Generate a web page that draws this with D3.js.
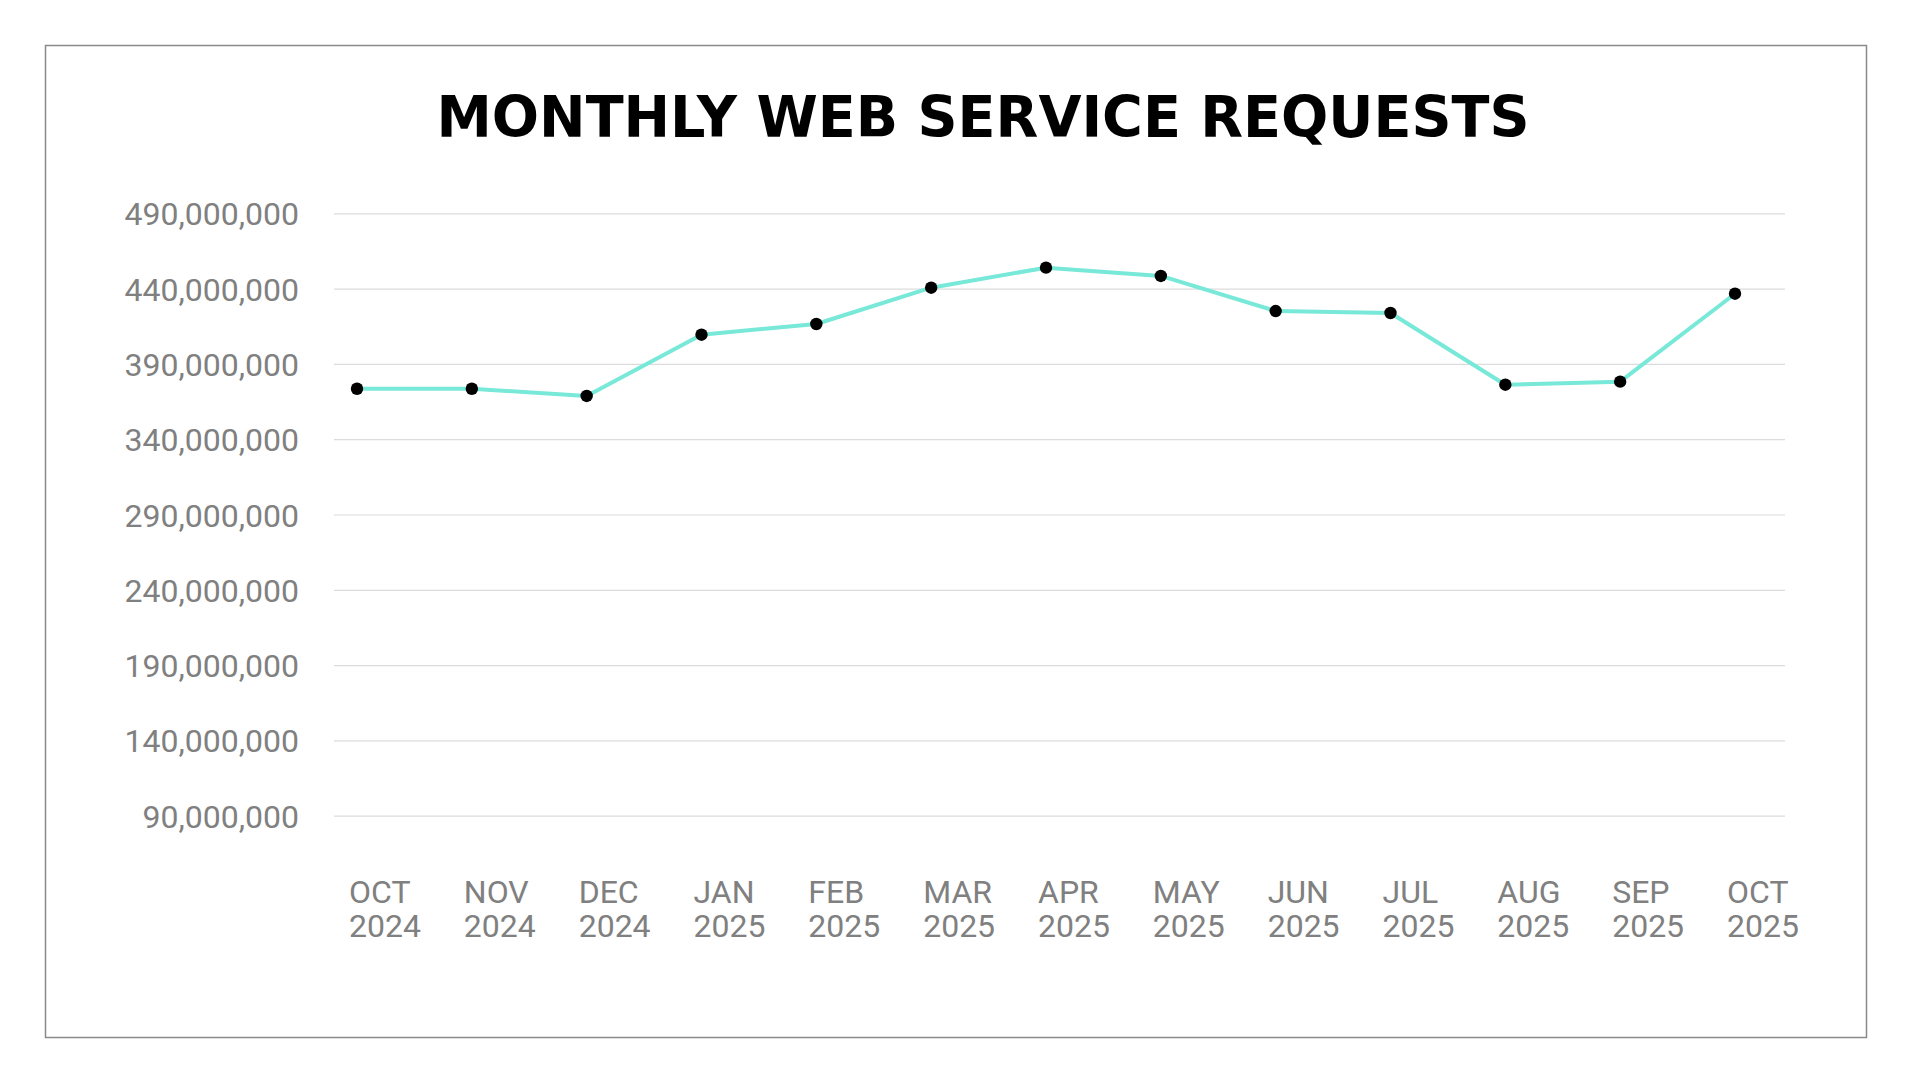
<!DOCTYPE html>
<html lang="en">
<head>
  <meta charset="utf-8" />
  <title>Monthly Web Service Requests</title>
  <script src="https://d3js.org/d3.v7.min.js"></script>
  <style>
    body { margin: 0; background: #fff; }
    .grid line { stroke: #dcdcdc; stroke-width: 1.2px; }
    .grid text { fill: #808080; font-family: Roboto, "Noto Sans", sans-serif; font-size: 32px; }
    .xlab { fill: #808080; font-family: Roboto, "Noto Sans", sans-serif; font-size: 32px; }
  </style>
</head>
<body>
<svg width="1921" height="1081"></svg>
<script>
// chart values
var months = ["OCT", "NOV", "DEC", "JAN", "FEB", "MAR", "APR", "MAY", "JUN", "JUL", "AUG", "SEP", "OCT"];
var years = ["2024", "2024", "2024", "2025", "2025", "2025", "2025", "2025", "2025", "2025", "2025", "2025", "2025"];
var requests = [373500000, 373500000, 368700000, 409400000, 416500000, 440600000, 453900000,
  448400000, 425100000, 423800000, 376200000, 378200000, 436600000];
var yTicks = [90000000, 140000000, 190000000, 240000000, 290000000, 340000000, 390000000, 440000000, 490000000];

var svg = d3.select("svg");

// outer frame
svg.append("rect")
  .attr("x", 45.5)
  .attr("y", 45.5)
  .attr("width", 1821)
  .attr("height", 992)
  .attr("fill", "none")
  .attr("stroke", "#8a8a8a")
  .attr("stroke-width", 1.5);

// title
svg.append("text")
  .attr("x", 983)
  .attr("y", 137)
  .attr("text-anchor", "middle")
  .attr("font-family", "'DejaVu Sans', sans-serif")
  .attr("font-weight", "bold")
  .attr("font-size", 57)
  .attr("textLength", 1093)
  .attr("lengthAdjust", "spacingAndGlyphs")
  .attr("fill", "#000")
  .text("MONTHLY WEB SERVICE REQUESTS");

// index per point so repeated month names stay distinct
var idx = months.map(function (d, i) { return i; });

var x = d3.scalePoint().domain(idx).range([357, 1735]);
var y = d3.scaleLinear().domain([90000000, 490000000]).range([815.7, 213.3]);

var gridLeft = 334, gridRight = 1785;

// gridlines + y labels
svg.append("g")
  .attr("class", "grid")
  .attr("transform", "translate(" + gridLeft + ",0)")
  .call(d3.axisLeft(y)
    .tickValues(yTicks)
    .tickSize(-(gridRight - gridLeft))
    .tickPadding(35)
    .tickFormat(d3.format(",")))
  .call(function (g) { g.select(".domain").remove(); })
  .selectAll("text")
  .attr("dy", "0.36em");

// x labels (two lines, left aligned a little before each point)
var xl = svg.append("g").selectAll("text")
  .data(idx)
  .enter()
  .append("text")
  .attr("class", "xlab")
  .attr("x", function (d) { return x(d) - 8; })
  .attr("y", 902.7);
xl.append("tspan").text(function (d) { return months[d]; });
xl.append("tspan")
  .attr("x", function (d) { return x(d) - 8; })
  .attr("dy", 34.7)
  .text(function (d) { return years[d]; });

// line
var line = d3.line()
  .x(function (d) { return x(d); })
  .y(function (d) { return y(requests[d]); });

svg.append("path")
  .datum(idx)
  .attr("fill", "none")
  .attr("stroke", "#78e8d8")
  .attr("stroke-width", 4)
  .attr("stroke-linejoin", "round")
  .attr("d", line);

// markers
svg.append("g").selectAll("circle")
  .data(idx)
  .enter()
  .append("circle")
  .attr("cx", function (d) { return x(d); })
  .attr("cy", function (d) { return y(requests[d]); })
  .attr("r", 6.2)
  .attr("fill", "#000");
</script>
</body>
</html>
